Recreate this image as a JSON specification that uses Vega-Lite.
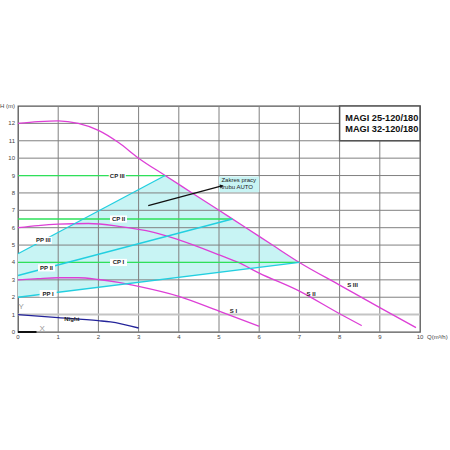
{
  "$schema": "https://vega.github.io/schema/vega-lite/v6.json",
  "width": 402,
  "height": 226,
  "autosize": "none",
  "padding": {"left": 18, "top": 106, "right": 30, "bottom": 118},
  "background": "white",
  "config": {
    "view": {"stroke": "#555555", "strokeWidth": 1.3},
    "text": {"font": "Liberation Sans"}
  },
  "datasets": {
    "area": [
      {"q": 0, "h": 4.5, "h2": 2.0},
      {"q": 3.66, "h": 9.0, "h2": 3.046},
      {"q": 7.0, "h": 4.0, "h2": 4.0}
    ],
    "gridx": [{"q": 1}, {"q": 2}, {"q": 3}, {"q": 4}, {"q": 5}, {"q": 6}, {"q": 7}, {"q": 8}, {"q": 9}],
    "gridy": [{"h": 2}, {"h": 3}, {"h": 4}, {"h": 5}, {"h": 6}, {"h": 7}, {"h": 8}, {"h": 9}, {"h": 10}, {"h": 11}, {"h": 12}],
    "yTicks": [
      {"h": 0, "label": "0"}, {"h": 1, "label": "1"}, {"h": 2, "label": "2"}, {"h": 3, "label": "3"},
      {"h": 4, "label": "4"}, {"h": 5, "label": "5"}, {"h": 6, "label": "6"}, {"h": 7, "label": "7"},
      {"h": 8, "label": "8"}, {"h": 9, "label": "9"}, {"h": 10, "label": "10"}, {"h": 11, "label": "11"},
      {"h": 12, "label": "12"}, {"h": 13, "label": "H (m)"}
    ],
    "xTicks": [
      {"q": 0, "label": "0"}, {"q": 1, "label": "1"}, {"q": 2, "label": "2"}, {"q": 3, "label": "3"},
      {"q": 4, "label": "4"}, {"q": 5, "label": "5"}, {"q": 6, "label": "6"}, {"q": 7, "label": "7"},
      {"q": 8, "label": "8"}, {"q": 9, "label": "9"}, {"q": 10, "label": "10"}
    ],
    "curves": [
      {"curve": "S III", "q": 0, "h": 12.0},
      {"curve": "S III", "q": 0.5, "h": 12.1},
      {"curve": "S III", "q": 1, "h": 12.15},
      {"curve": "S III", "q": 1.5, "h": 12.0},
      {"curve": "S III", "q": 2, "h": 11.6},
      {"curve": "S III", "q": 2.5, "h": 10.9},
      {"curve": "S III", "q": 3, "h": 10.0},
      {"curve": "S III", "q": 3.66, "h": 9.0},
      {"curve": "S III", "q": 4.33, "h": 8.0},
      {"curve": "S III", "q": 5.0, "h": 7.0},
      {"curve": "S III", "q": 5.67, "h": 6.0},
      {"curve": "S III", "q": 6.33, "h": 5.0},
      {"curve": "S III", "q": 7.0, "h": 4.0},
      {"curve": "S III", "q": 8.0, "h": 2.7},
      {"curve": "S III", "q": 9.0, "h": 1.4},
      {"curve": "S III", "q": 9.9, "h": 0.25},
      {"curve": "S II", "q": 0, "h": 6.0},
      {"curve": "S II", "q": 0.5, "h": 6.12},
      {"curve": "S II", "q": 1, "h": 6.2},
      {"curve": "S II", "q": 1.75, "h": 6.24},
      {"curve": "S II", "q": 2.5, "h": 6.08},
      {"curve": "S II", "q": 3, "h": 5.9},
      {"curve": "S II", "q": 3.3, "h": 5.77},
      {"curve": "S II", "q": 4, "h": 5.3},
      {"curve": "S II", "q": 5, "h": 4.44},
      {"curve": "S II", "q": 5.48, "h": 4.0},
      {"curve": "S II", "q": 6, "h": 3.39},
      {"curve": "S II", "q": 7, "h": 2.35},
      {"curve": "S II", "q": 8, "h": 1.05},
      {"curve": "S II", "q": 8.55, "h": 0.37},
      {"curve": "S I", "q": 0, "h": 3.0},
      {"curve": "S I", "q": 0.5, "h": 3.07},
      {"curve": "S I", "q": 1, "h": 3.12},
      {"curve": "S I", "q": 1.5, "h": 3.12},
      {"curve": "S I", "q": 2, "h": 3.02},
      {"curve": "S I", "q": 2.5, "h": 2.85},
      {"curve": "S I", "q": 3, "h": 2.62},
      {"curve": "S I", "q": 4, "h": 2.05},
      {"curve": "S I", "q": 5, "h": 1.2},
      {"curve": "S I", "q": 6, "h": 0.33},
      {"curve": "CP III", "q": 0, "h": 9.0},
      {"curve": "CP III", "q": 3.66, "h": 9.0},
      {"curve": "CP II", "q": 0, "h": 6.5},
      {"curve": "CP II", "q": 5.33, "h": 6.5},
      {"curve": "CP I", "q": 0, "h": 4.0},
      {"curve": "CP I", "q": 7.0, "h": 4.0},
      {"curve": "PP III", "q": 0, "h": 4.5},
      {"curve": "PP III", "q": 3.66, "h": 9.0},
      {"curve": "PP II", "q": 0, "h": 3.25},
      {"curve": "PP II", "q": 5.33, "h": 6.5},
      {"curve": "PP I", "q": 0, "h": 2.0},
      {"curve": "PP I", "q": 7.0, "h": 4.0},
      {"curve": "Night", "q": 0, "h": 1.0},
      {"curve": "Night", "q": 1, "h": 0.83},
      {"curve": "Night", "q": 2, "h": 0.65},
      {"curve": "Night", "q": 2.3, "h": 0.58},
      {"curve": "Night", "q": 3, "h": 0.23}
    ],
    "lineLabels": [
      {"label": "CP III", "q": 2.47, "h": 9.0},
      {"label": "CP II", "q": 2.5, "h": 6.5},
      {"label": "CP I", "q": 2.5, "h": 4.0},
      {"label": "PP III", "q": 0.63, "h": 5.27},
      {"label": "PP II", "q": 0.71, "h": 3.69},
      {"label": "PP I", "q": 0.75, "h": 2.21}
    ],
    "curveLabels": [
      {"label": "S III", "q": 8.32, "h": 2.68},
      {"label": "S II", "q": 7.29, "h": 2.2},
      {"label": "S I", "q": 5.36, "h": 1.23},
      {"label": "Night", "q": 1.34, "h": 0.77}
    ],
    "zakresBox": [{"q": 5.0, "q2": 6.0, "h": 8.04, "h2": 8.95}],
    "zakresText": [
      {"label": "Zakres pracy", "q": 5.06, "h": 8.72},
      {"label": "trubu AUTO", "q": 5.06, "h": 8.34}
    ],
    "arrow": [{"q": 3.24, "h": 7.27, "q2": 5.07, "h2": 8.4}],
    "legendBox": [{"q": 8.0, "q2": 10.0, "h": 11.0, "h2": 13.0}],
    "legendText": [
      {"label": "MAGI 25-120/180", "q": 9.05, "h": 12.29},
      {"label": "MAGI 32-120/180", "q": 9.05, "h": 11.67}
    ],
    "axisMarks": [
      {"label": "Y", "q": 0.08, "h": 1.45},
      {"label": "X", "q": 0.6, "h": 0.2}
    ],
    "baseSeg": [{"q": 0, "q2": 0.46, "h": 0}],
    "oneLine": [{"h": 1}],
    "qTitle": [{"label": "Q(m³/h)", "q": 10, "h": 0}]
  },
  "layer": [
    {
      "data": {"name": "area"},
      "mark": {"type": "area", "color": "#c8f4f4", "opacity": 1},
      "encoding": {
        "x": {"field": "q", "type": "quantitative", "scale": {"domain": [0, 10], "nice": false, "zero": false}, "axis": null},
        "y": {"field": "h", "type": "quantitative", "scale": {"domain": [0, 13], "nice": false, "zero": false}, "axis": null},
        "y2": {"field": "h2"}
      }
    },
    {
      "data": {"name": "gridx"},
      "mark": {"type": "rule", "color": "#808080", "strokeWidth": 1},
      "encoding": {"x": {"field": "q", "type": "quantitative", "scale": {"domain": [0, 10], "nice": false, "zero": false}, "axis": null}}
    },
    {
      "data": {"name": "gridy"},
      "mark": {"type": "rule", "color": "#808080", "strokeWidth": 1},
      "encoding": {"y": {"field": "h", "type": "quantitative", "scale": {"domain": [0, 13], "nice": false, "zero": false}, "axis": null}}
    },
    {
      "data": {"name": "oneLine"},
      "mark": {"type": "rule", "color": "#c4c4c4", "strokeWidth": 2},
      "encoding": {"y": {"field": "h", "type": "quantitative", "scale": {"domain": [0, 13], "nice": false, "zero": false}, "axis": null}}
    },
    {
      "data": {"name": "yTicks"},
      "mark": {"type": "text", "align": "right", "baseline": "middle", "fontSize": 6, "color": "#444444", "dx": -3},
      "encoding": {
        "x": {"datum": 0, "type": "quantitative", "scale": {"domain": [0, 10], "nice": false, "zero": false}, "axis": null},
        "y": {"field": "h", "type": "quantitative", "scale": {"domain": [0, 13], "nice": false, "zero": false}, "axis": null},
        "text": {"field": "label"}
      }
    },
    {
      "data": {"name": "xTicks"},
      "mark": {"type": "text", "align": "center", "baseline": "top", "fontSize": 6, "color": "#444444", "dy": 2},
      "encoding": {
        "x": {"field": "q", "type": "quantitative", "scale": {"domain": [0, 10], "nice": false, "zero": false}, "axis": null},
        "y": {"datum": 0, "type": "quantitative", "scale": {"domain": [0, 13], "nice": false, "zero": false}, "axis": null},
        "text": {"field": "label"}
      }
    },
    {
      "data": {"name": "zakresBox"},
      "mark": {"type": "rect", "color": "#c8f4f4"},
      "encoding": {
        "x": {"field": "q", "type": "quantitative", "scale": {"domain": [0, 10], "nice": false, "zero": false}, "axis": null},
        "x2": {"field": "q2"},
        "y": {"field": "h", "type": "quantitative", "scale": {"domain": [0, 13], "nice": false, "zero": false}, "axis": null},
        "y2": {"field": "h2"}
      }
    },
    {
      "data": {"name": "curves"},
      "mark": {"type": "line", "interpolate": "monotone"},
      "encoding": {
        "x": {"field": "q", "type": "quantitative", "scale": {"domain": [0, 10], "nice": false, "zero": false}, "axis": null},
        "y": {"field": "h", "type": "quantitative", "scale": {"domain": [0, 13], "nice": false, "zero": false}, "axis": null},
        "detail": {"field": "curve", "type": "nominal"},
        "color": {"field": "curve", "type": "nominal", "legend": null,
                  "scale": {"domain": ["S III", "S II", "S I", "CP III", "CP II", "CP I", "PP III", "PP II", "PP I", "Night"],
                            "range": ["#dd3fd6", "#dd3fd6", "#dd3fd6", "#2ee05a", "#2ee05a", "#2ee05a", "#22cfe0", "#22cfe0", "#22cfe0", "#24249a"]}},
        "strokeWidth": {"field": "curve", "type": "nominal", "legend": null,
                  "scale": {"domain": ["S III", "S II", "S I", "CP III", "CP II", "CP I", "PP III", "PP II", "PP I", "Night"],
                            "range": [1.3, 1.3, 1.3, 2.2, 2.2, 2.2, 1.6, 1.6, 1.6, 1.5]}}
      }
    },
    {
      "data": {"name": "arrow"},
      "mark": {"type": "rule", "color": "#111111", "strokeWidth": 1.3},
      "encoding": {
        "x": {"field": "q", "type": "quantitative", "scale": {"domain": [0, 10], "nice": false, "zero": false}, "axis": null},
        "x2": {"field": "q2"},
        "y": {"field": "h", "type": "quantitative", "scale": {"domain": [0, 13], "nice": false, "zero": false}, "axis": null},
        "y2": {"field": "h2"}
      }
    },
    {
      "data": {"name": "arrow"},
      "mark": {"type": "point", "shape": "triangle-right", "filled": true, "color": "#111111", "size": 18, "angle": -15, "opacity": 1},
      "encoding": {
        "x": {"field": "q2", "type": "quantitative", "scale": {"domain": [0, 10], "nice": false, "zero": false}, "axis": null},
        "y": {"field": "h2", "type": "quantitative", "scale": {"domain": [0, 13], "nice": false, "zero": false}, "axis": null}
      }
    },
    {
      "data": {"name": "zakresText"},
      "mark": {"type": "text", "align": "left", "baseline": "middle", "fontSize": 6, "color": "#222222"},
      "encoding": {
        "x": {"field": "q", "type": "quantitative", "scale": {"domain": [0, 10], "nice": false, "zero": false}, "axis": null},
        "y": {"field": "h", "type": "quantitative", "scale": {"domain": [0, 13], "nice": false, "zero": false}, "axis": null},
        "text": {"field": "label"}
      }
    },
    {
      "data": {"name": "lineLabels"},
      "mark": {"type": "point", "shape": "M-1,-0.42L1,-0.42L1,0.42L-1,0.42Z", "filled": true, "color": "white", "size": 290, "opacity": 1},
      "encoding": {
        "x": {"field": "q", "type": "quantitative", "scale": {"domain": [0, 10], "nice": false, "zero": false}, "axis": null},
        "y": {"field": "h", "type": "quantitative", "scale": {"domain": [0, 13], "nice": false, "zero": false}, "axis": null}
      }
    },
    {
      "data": {"name": "lineLabels"},
      "mark": {"type": "text", "align": "center", "baseline": "middle", "fontSize": 6, "fontWeight": "bold", "color": "#222222"},
      "encoding": {
        "x": {"field": "q", "type": "quantitative", "scale": {"domain": [0, 10], "nice": false, "zero": false}, "axis": null},
        "y": {"field": "h", "type": "quantitative", "scale": {"domain": [0, 13], "nice": false, "zero": false}, "axis": null},
        "text": {"field": "label"}
      }
    },
    {
      "data": {"name": "curveLabels"},
      "mark": {"type": "text", "align": "center", "baseline": "middle", "fontSize": 6, "fontWeight": "bold", "color": "#222222"},
      "encoding": {
        "x": {"field": "q", "type": "quantitative", "scale": {"domain": [0, 10], "nice": false, "zero": false}, "axis": null},
        "y": {"field": "h", "type": "quantitative", "scale": {"domain": [0, 13], "nice": false, "zero": false}, "axis": null},
        "text": {"field": "label"}
      }
    },
    {
      "data": {"name": "legendBox"},
      "mark": {"type": "rect", "fill": "white", "stroke": "#555555", "strokeWidth": 1.5},
      "encoding": {
        "x": {"field": "q", "type": "quantitative", "scale": {"domain": [0, 10], "nice": false, "zero": false}, "axis": null},
        "x2": {"field": "q2"},
        "y": {"field": "h", "type": "quantitative", "scale": {"domain": [0, 13], "nice": false, "zero": false}, "axis": null},
        "y2": {"field": "h2"}
      }
    },
    {
      "data": {"name": "legendText"},
      "mark": {"type": "text", "align": "center", "baseline": "middle", "fontSize": 9.2, "fontWeight": "bold", "color": "#111111"},
      "encoding": {
        "x": {"field": "q", "type": "quantitative", "scale": {"domain": [0, 10], "nice": false, "zero": false}, "axis": null},
        "y": {"field": "h", "type": "quantitative", "scale": {"domain": [0, 13], "nice": false, "zero": false}, "axis": null},
        "text": {"field": "label"}
      }
    },
    {
      "data": {"name": "axisMarks"},
      "mark": {"type": "text", "align": "center", "baseline": "middle", "fontSize": 8, "color": "#9a9a9a"},
      "encoding": {
        "x": {"field": "q", "type": "quantitative", "scale": {"domain": [0, 10], "nice": false, "zero": false}, "axis": null},
        "y": {"field": "h", "type": "quantitative", "scale": {"domain": [0, 13], "nice": false, "zero": false}, "axis": null},
        "text": {"field": "label"}
      }
    },
    {
      "data": {"name": "baseSeg"},
      "mark": {"type": "rule", "color": "#111111", "strokeWidth": 2},
      "encoding": {
        "x": {"field": "q", "type": "quantitative", "scale": {"domain": [0, 10], "nice": false, "zero": false}, "axis": null},
        "x2": {"field": "q2"},
        "y": {"field": "h", "type": "quantitative", "scale": {"domain": [0, 13], "nice": false, "zero": false}, "axis": null}
      }
    },
    {
      "data": {"name": "qTitle"},
      "mark": {"type": "text", "align": "left", "baseline": "top", "fontSize": 6, "color": "#444444", "dx": 7, "dy": 2},
      "encoding": {
        "x": {"field": "q", "type": "quantitative", "scale": {"domain": [0, 10], "nice": false, "zero": false}, "axis": null},
        "y": {"field": "h", "type": "quantitative", "scale": {"domain": [0, 13], "nice": false, "zero": false}, "axis": null},
        "text": {"field": "label"}
      }
    }
  ]
}
